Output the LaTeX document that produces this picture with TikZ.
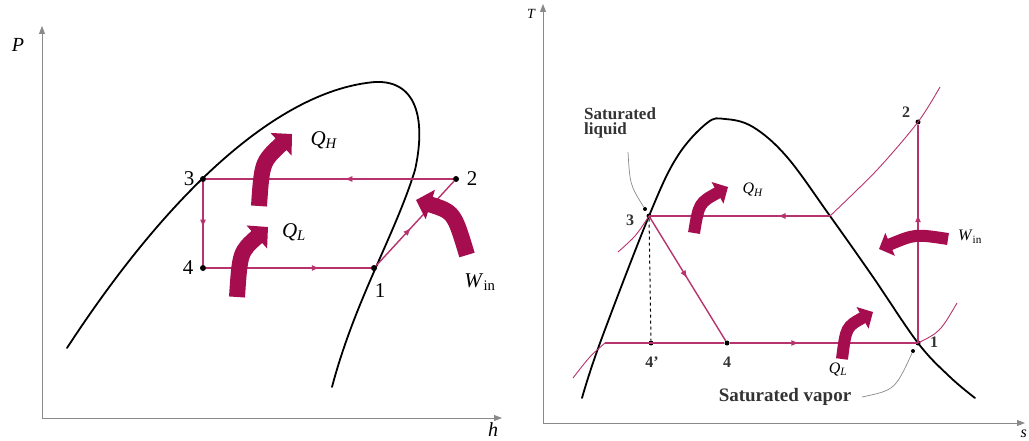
\documentclass[tikz,border=0pt]{standalone}
\usepackage{fontspec}
\setmainfont{Liberation Serif}
\usetikzlibrary{arrows.meta,decorations.markings}
\definecolor{plum}{HTML}{B8326E}
\definecolor{heatred}{HTML}{A50D4E}
\definecolor{axisgray}{HTML}{8A8A8A}

\begin{document}
\begin{tikzpicture}[x=1pt,y=-1pt,
  axis/.style={draw=axisgray,line width=0.9pt,-{Triangle[length=8pt,width=6pt]}},
  dome/.style={draw=black,line width=1.8pt,line cap=round},
  cyc/.style={draw=plum,line width=1.4pt},
  isobar/.style={draw=plum,line width=0.9pt},
  flow/.style={cyc,postaction={decorate},decoration={markings,
      mark=at position #1 with {\arrow{Latex[length=8pt,width=6pt]}}}},
  pt/.style={circle,fill=black,inner sep=0pt,minimum size=#1},
  pt/.default=6pt,
  heatbig/.style={draw=heatred,line width=16pt,-{Triangle[length=15pt,width=30pt]}},
  heatsmall/.style={draw=heatred,line width=12pt,-{Triangle[length=12pt,width=24pt]}},
  bigtxt/.style={font=\fontsize{21}{24}\selectfont},
  smalltxt/.style={font=\fontsize{16}{18}\selectfont\bfseries,text=black!80}]
\useasboundingbox (0,0) rectangle (1029,441);

% ---- P-h diagram
\coordinate (lorig) at (42,418);
\draw[axis] (lorig) -- (42,26);
\draw[axis] (lorig) -- (502,418);
\node[font=\fontsize{20}{24}\selectfont\itshape] (lP) at (18,45) {P};
\node[font=\fontsize{20}{24}\selectfont\itshape,anchor=base,inner sep=0pt] (lh) at (493,436) {h};
\draw[dome] (67,348) .. controls (170,190) and (280,90) .. (375,82)
  .. controls (420,80) and (425,125) .. (415,170)
  .. controls (395,235) and (355,300) .. (332,387);
\node[pt] (l3) at (203,179) {};
\node[pt] (l2) at (456,179) {};
\node[pt] (l4) at (203,268) {};
\node[pt] (l1) at (374,268) {};
\draw[flow=0.44] (l2) -- (l3);
\draw[flow=0.55] (l3) -- (l4);
\draw[flow=0.69] (l4) -- (l1);
\draw[flow=0.45] (l1) -- (l2);
\node[bigtxt] (l3t) at (189,179) {3};
\node[bigtxt] (l2t) at (472,179) {2};
\node[bigtxt] (l4t) at (188,268) {4};
\node[bigtxt] (l1t) at (380,291) {1};
% heat and work arrows
\coordinate (lqh0) at (259,206); \coordinate (lqh1) at (292,134);
\coordinate (lql0) at (237,297); \coordinate (lql1) at (268,227);
\coordinate (lwi0) at (467,255); \coordinate (lwi1) at (416,200);
\draw[heatbig] (lqh0) .. controls (262,162) .. (lqh1);
\draw[heatbig] (lql0) .. controls (240,252) .. (lql1);
\draw[heatbig] (lwi0) .. controls (454,212) .. (lwi1);
\node[bigtxt] (lQH) at (324,140) {\textit{Q}\textsubscript{\textit{H}}};
\node[bigtxt] (lQL) at (294,232) {\textit{Q}\textsubscript{\textit{L}}};
\node[bigtxt] (lWin) at (480,282) {\textit{W}\textsubscript{in}};

% ---- T-s diagram
\coordinate (rorig) at (543,423);
\draw[axis] (rorig) -- (543,4);
\draw[axis] (rorig) -- (1025,423);
\node[font=\fontsize{14}{16}\selectfont\itshape] (rT) at (531,14) {T};
\node[font=\fontsize{16}{18}\selectfont\itshape,anchor=base east,inner sep=0pt] (rs) at (1027,437) {s};
\draw[dome] plot[smooth,tension=0.6] coordinates {(582,398) (600,343) (649,216) (677,157)
  (707,123) (725,119) (753,127) (787,157) (830,216) (873,277) (918,343) (950,377) (975,398)};
\node[pt=5pt] (r3) at (649,216) {};
\node[pt=5pt] (r2) at (918,122) {};
\node[pt=5pt] (r1) at (918,343) {};
\node[pt=5pt] (r4) at (727,343) {};
\node[pt=5pt] (r4p) at (651,343) {};
\coordinate (rsv) at (830,216);
\coordinate (rlo) at (605,343);
% isobars
\draw[isobar] plot[smooth] coordinates {(rsv) (877,170) (r2.center) (940,87)};
\draw[isobar] (618,252) .. controls (636,236) .. (r3.center);
\draw[isobar] (573,378) .. controls (590,356) .. (rlo);
\draw[isobar] (r1.center) .. controls (940,332) .. (957,303);
\draw[dashed,line width=1pt] (r3) -- (r4p);
\draw[cyc] (rlo) -- (r4);
\draw[flow=0.29] (rsv) -- (r3.center);
\draw[flow=0.5] (r3.center) -- (r4);
\draw[flow=0.37] (r4) -- (r1.center);
\draw[flow=0.59] (r1.center) -- (r2);
% saturation pointers
\node[pt=4pt] (rsl) at (645,209) {};
\node[pt=4pt] (rsg) at (913,351) {};
\draw[axisgray,line width=0.7pt] (628,152) .. controls (630,185) .. (rsl);
\draw[axisgray,line width=0.7pt] (862,397) .. controls (895,390) .. (rsg);
\node[smalltxt,font=\fontsize{17}{18}\selectfont\bfseries,align=left,anchor=north west,inner sep=0pt] (rliq) at (584,108) {Saturated\\[-3pt]liquid};
\node[smalltxt,font=\fontsize{19}{20}\selectfont\bfseries] (rvap) at (785,397) {Saturated vapor};
\node[smalltxt] (r2t) at (906,112) {2};
\node[smalltxt] (r1t) at (934,342) {1};
\node[smalltxt] (r3t) at (630,220) {3};
\node[smalltxt] (r4pt) at (652,362) {4'};
\node[smalltxt] (r4t) at (727,362) {4};
% heat and work arrows
\coordinate (rqh0) at (694,233); \coordinate (rqh1) at (728,187);
\coordinate (rql0) at (842,359); \coordinate (rql1) at (873,312);
\coordinate (rwi0) at (948,239); \coordinate (rwi1) at (879,249);
\draw[heatsmall] (rqh0) .. controls (699,203) .. (rqh1);
\draw[heatsmall] (rql0) .. controls (846,327) .. (rql1);
\draw[heatsmall] (rwi0) .. controls (915,234) .. (rwi1);
\node[font=\fontsize{16}{18}\selectfont] (rQH) at (753,190) {\textit{Q}\textsubscript{\textit{H}}};
\node[font=\fontsize{16}{18}\selectfont] (rQL) at (838,369) {\textit{Q}\textsubscript{\textit{L}}};
\node[font=\fontsize{16}{18}\selectfont] (rWin) at (970,237) {\textit{W}\textsubscript{in}};
\end{tikzpicture}
\end{document}
